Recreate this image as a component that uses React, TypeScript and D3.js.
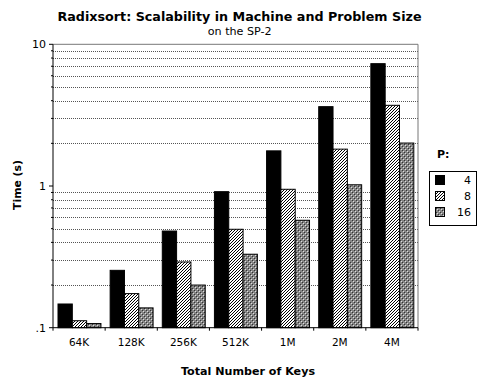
import React from "react";
import * as d3 from "d3";

const categories = ["64K", "128K", "256K", "512K", "1M", "2M", "4M"];
const seriesNames = ["4", "8", "16"];
const timesP4 = [0.147, 0.254, 0.481, 0.912, 1.77, 3.63, 7.3];
const timesP8 = [0.112, 0.174, 0.291, 0.495, 0.948, 1.82, 3.71];
const timesP16 = [0.107, 0.138, 0.2, 0.33, 0.573, 1.02, 2.01];
const yTickLabels = [
  { v: 0.1, t: ".1" },
  { v: 1, t: "1" },
  { v: 10, t: "10" },
];

const W = 478;
const H = 381;
const left = 53;
const right = 418;
const top = 44.3;
const bottom = 327.7;
const font = "'DejaVu Sans', Verdana, sans-serif";

export default function App() {
  const series = [timesP4, timesP8, timesP16];
  const fills = ["#000", "url(#hatch)", "url(#dots)"];

  const x = d3.scaleBand<string>().domain(categories).range([left, right]).padding(0);
  const xi = d3
    .scaleBand<string>()
    .domain(seriesNames)
    .range([5, x.bandwidth() - 4.2])
    .padding(0);
  const y = d3.scaleLog().domain([0.1, 10]).range([bottom, top]);

  const grid: number[] = [];
  [0.1, 1].forEach((dec) => {
    for (let k = 2; k <= 9; k++) grid.push(dec * k);
  });

  return (
    <svg
      width={W}
      height={H}
      style={{ position: "absolute", left: 0, top: 0, background: "#fff" }}
    >
      <defs>
        <pattern id="hatch" width="3" height="3" patternUnits="userSpaceOnUse">
          <rect width="3" height="3" fill="#fff" />
          <path d="M-1,1 L1,-1 M0,3 L3,0 M2,4 L4,2" stroke="#000" strokeWidth="1" />
        </pattern>
        <pattern id="dots" width="4" height="4" patternUnits="userSpaceOnUse">
          <rect width="4" height="4" fill="#858585" />
          <rect x="0" y="0" width="1" height="1" fill="#333" />
          <rect x="2" y="2" width="1" height="1" fill="#333" />
          <rect x="1" y="1" width="1" height="1" fill="#ddd" />
          <rect x="3" y="3" width="1" height="1" fill="#ddd" />
        </pattern>
      </defs>

      <text
        x={239.5}
        y={21}
        textAnchor="middle"
        fontFamily={font}
        fontWeight="bold"
        fontSize={12.5}
        textLength={364}
        lengthAdjust="spacingAndGlyphs"
      >
        Radixsort: Scalability in Machine and Problem Size
      </text>
      <text
        x={239.7}
        y={35}
        textAnchor="middle"
        fontFamily={font}
        fontSize={10.5}
        textLength={64}
        lengthAdjust="spacingAndGlyphs"
      >
        on the SP-2
      </text>

      {/* gridlines */}
      {grid.map((v) => (
        <line
          key={v}
          x1={left}
          x2={right}
          y1={Math.round(y(v)) + 0.5}
          y2={Math.round(y(v)) + 0.5}
          stroke="#555"
          strokeDasharray="1,1"
        />
      ))}
      {/* frame: top and right */}
      <line x1={left} x2={right} y1={top} y2={top} stroke="#777" />
      <line x1={right} x2={right} y1={top} y2={bottom} stroke="#777" />

      {/* bars */}
      {series.map((vals, si) =>
        vals.map((v, ci) => (
          <rect
            key={`${si}-${ci}`}
            x={(x(categories[ci]) as number) + (xi(seriesNames[si]) as number)}
            y={y(v)}
            width={xi.bandwidth()}
            height={bottom - y(v)}
            fill={fills[si]}
            stroke="#000"
            strokeWidth={1}
          />
        ))
      )}

      {/* axes */}
      <line x1={left} x2={left} y1={top} y2={bottom} stroke="#000" />
      <line x1={left} x2={right} y1={bottom} y2={bottom} stroke="#000" />
      {yTickLabels.map((d) => (
        <g key={d.t}>
          <line x1={left - 4} x2={left} y1={y(d.v)} y2={y(d.v)} stroke="#000" />
          <text
            x={left - 7}
            y={y(d.v) + 4}
            textAnchor="end"
            fontFamily={font}
            fontSize={11}
          >
            {d.t}
          </text>
        </g>
      ))}
      {grid.map((v) => (
        <line
          key={`t${v}`}
          x1={left - 2}
          x2={left}
          y1={y(v)}
          y2={y(v)}
          stroke="#000"
        />
      ))}
      {categories.map((c, i) => (
        <g key={c}>
          <line
            x1={(x(c) as number) + x.bandwidth()}
            x2={(x(c) as number) + x.bandwidth()}
            y1={bottom}
            y2={bottom + 3}
            stroke="#000"
          />
          {i === 0 && (
            <line x1={left} x2={left} y1={bottom} y2={bottom + 3} stroke="#000" />
          )}
          <text
            x={(x(c) as number) + x.bandwidth() / 2}
            y={346}
            textAnchor="middle"
            fontFamily={font}
            fontSize={10.5}
          >
            {c}
          </text>
        </g>
      ))}

      <text
        x={248}
        y={375}
        textAnchor="middle"
        fontFamily={font}
        fontWeight="bold"
        fontSize={11}
        textLength={134}
        lengthAdjust="spacingAndGlyphs"
      >
        Total Number of Keys
      </text>
      <text
        transform="translate(21,185) rotate(-90)"
        textAnchor="middle"
        fontFamily={font}
        fontWeight="bold"
        fontSize={11}
        textLength={50}
        lengthAdjust="spacingAndGlyphs"
      >
        Time (s)
      </text>

      {/* legend */}
      <text x={437} y={158} fontFamily={font} fontWeight="bold" fontSize={11}>
        P:
      </text>
      <rect x={429.5} y={171.5} width={47} height={54} fill="#fff" stroke="#000" />
      {seriesNames.map((n, i) => (
        <g key={n}>
          <rect
            x={435.5}
            y={175.5 + i * 16}
            width={9}
            height={9}
            fill={fills[i]}
            stroke="#000"
          />
          <text
            x={471}
            y={184 + i * 16}
            textAnchor="end"
            fontFamily={font}
            fontSize={11}
          >
            {n}
          </text>
        </g>
      ))}
    </svg>
  );
}
